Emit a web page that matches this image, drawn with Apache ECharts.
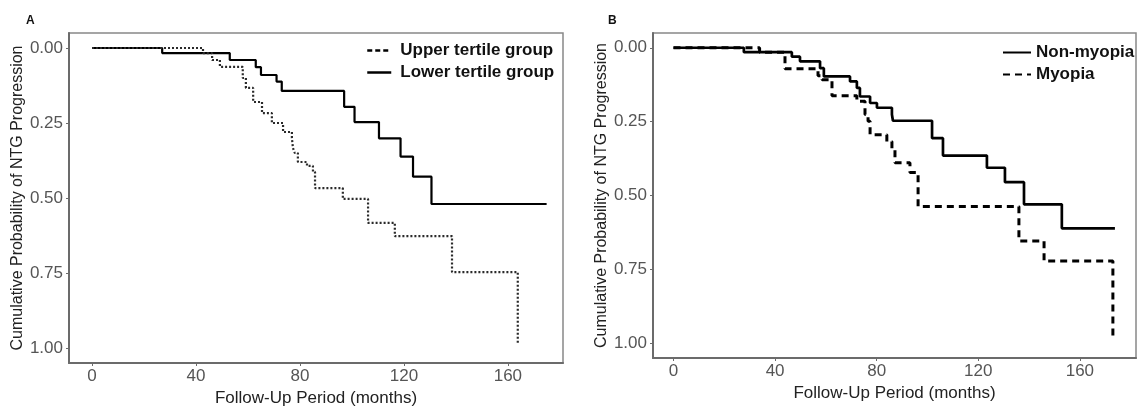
<!DOCTYPE html>
<html>
<head>
<meta charset="utf-8">
<script src="https://cdn.jsdelivr.net/npm/echarts@6/dist/echarts.min.js"></script>
<style>
  html, body { margin: 0; padding: 0; background: #fff; }
  #chart { width: 1137px; height: 410px; }
</style>
</head>
<body>
<div id="chart"></div>
<script>
// panel A: tertile groups
const upperTime = [0, 42.7, 46.2, 49.2, 58, 59.2, 62, 65.4, 69.2, 73.5, 76.9, 77.3, 78, 79.2, 82.7, 85, 85.8, 96.5, 106.2, 116.5, 138.5, 163.8];
const upperProb = [0, 0.017, 0.04, 0.063, 0.10, 0.133, 0.18, 0.217, 0.25, 0.28, 0.30, 0.333, 0.35, 0.38, 0.393, 0.413, 0.467, 0.503, 0.583, 0.627, 0.747, 0.983];
const lowerTime = [0, 27, 53, 63, 65, 71, 73, 97, 101, 110.4, 118.7, 123.5, 130.6, 174.9];
const lowerProb = [0, 0.017, 0.04, 0.064, 0.09, 0.112, 0.143, 0.196, 0.247, 0.301, 0.362, 0.429, 0.52, 0.52];

// panel B: myopia
const nonMyopiaTime = [0, 27.7, 46.6, 49.8, 57.7, 59.2, 69.5, 72.2, 73.4, 77.4, 80.1, 86, 86.4, 101.8, 106.1, 123.4, 130.5, 138, 152.9, 173.8];
const nonMyopiaProb = [0, 0.015, 0.03, 0.046, 0.069, 0.097, 0.114, 0.136, 0.165, 0.187, 0.203, 0.226, 0.247, 0.306, 0.365, 0.406, 0.455, 0.53, 0.611, 0.611];
const myopiaTime = [0, 33.9, 43.9, 56.9, 58.5, 62.4, 72.2, 75.4, 76.6, 77.4, 84, 86, 87.2, 93.1, 96.3, 136, 145.9, 173];
const myopiaProb = [0, 0.015, 0.071, 0.095, 0.108, 0.162, 0.181, 0.226, 0.249, 0.294, 0.317, 0.345, 0.389, 0.422, 0.537, 0.654, 0.722, 0.985];

const xTicks = [0, 40, 80, 120, 160];
const yTicks = [0, 0.25, 0.5, 0.75, 1];
const xTitle = 'Follow-Up Period (months)';
const yTitle = 'Cumulative Probability of NTG Progression';

const font = 'Liberation Sans, Arial, sans-serif';
const zip = (a, b) => a.map((v, i) => [v, b[i]]);

function xAxis(idx, min, max, gap) {
    return {
        type: 'value', gridIndex: idx, min: min, max: max,
        splitLine: { show: false },
        axisLine: { onZero: false, lineStyle: { color: '#6b6b6b', width: 2 } },
        axisTick: { customValues: xTicks, length: 3, lineStyle: { color: '#6b6b6b' } },
        axisLabel: { customValues: xTicks, margin: 5, fontSize: 17, color: '#555', fontFamily: font },
        name: xTitle, nameLocation: 'middle', nameGap: gap,
        nameTextStyle: { fontSize: 17, color: '#222', fontFamily: font }
    };
}
function yAxis(idx, gap) {
    return {
        type: 'value', gridIndex: idx, inverse: true, min: -0.05, max: 1.05,
        splitLine: { show: false },
        axisLine: { onZero: false, lineStyle: { color: '#6b6b6b', width: 2 } },
        axisTick: { customValues: yTicks, length: 3, lineStyle: { color: '#6b6b6b' } },
        axisLabel: { customValues: yTicks, margin: 6, fontSize: 17, color: '#555', fontFamily: font,
                     formatter: v => v.toFixed(2) },
        name: yTitle, nameLocation: 'middle', nameGap: gap, nameRotate: 90,
        nameTextStyle: { fontSize: 16, color: '#222', fontFamily: font }
    };
}

const legendText = { fontSize: 17, fontWeight: 'bold', color: '#111', fontFamily: font, lineHeight: 17 };

const chart = echarts.init(document.getElementById('chart'), null, { renderer: 'canvas' });
chart.setOption({
    backgroundColor: '#fff',
    animation: false,
    title: [
        { text: 'A', left: 21, top: 10, textStyle: { fontSize: 12, fontWeight: 'bold', color: '#111', fontFamily: font } },
        { text: 'B', left: 603, top: 10, textStyle: { fontSize: 12, fontWeight: 'bold', color: '#111', fontFamily: font } }
    ],
    grid: [
        { left: 69, top: 33, width: 494, height: 330, show: true, borderColor: '#888', borderWidth: 1.5, outerBoundsMode: 'none' },
        { left: 653, top: 33, width: 483, height: 325, show: true, borderColor: '#888', borderWidth: 1.5, outerBoundsMode: 'none' }
    ],
    xAxis: [xAxis(0, -8.85, 181.2, 25), xAxis(1, -8.07, 182.1, 22)],
    yAxis: [yAxis(0, 41), yAxis(1, 42)],
    legend: [
        {
            orient: 'vertical', left: 366, top: 42, padding: 0, itemWidth: 24, itemHeight: 12, itemGap: 5,
            itemStyle: { opacity: 0 },
            textStyle: Object.assign({ padding: [0, 0, 0, 4] }, legendText),
            data: [
                { name: 'Upper tertile group', lineStyle: { type: [5, 3], width: 2.5, color: '#000' } },
                { name: 'Lower tertile group', lineStyle: { width: 2.5, color: '#000' } }
            ]
        },
        {
            orient: 'vertical', left: 1002, top: 44, padding: 0, itemWidth: 28, itemHeight: 12, itemGap: 5,
            itemStyle: { opacity: 0 },
            textStyle: Object.assign({ padding: [0, 0, 0, 0] }, legendText),
            data: [{ name: 'Non-myopia' }, { name: 'Myopia' }]
        }
    ],
    series: [
        { name: 'Lower tertile group', type: 'line', step: 'end', xAxisIndex: 0, yAxisIndex: 0, symbol: 'none',
          itemStyle: { color: '#000' }, lineStyle: { color: '#000', width: 2.2 }, data: zip(lowerTime, lowerProb) },
        { name: 'Upper tertile group', type: 'line', step: 'end', xAxisIndex: 0, yAxisIndex: 0, symbol: 'none',
          itemStyle: { color: '#000' }, lineStyle: { color: '#2a2a2a', width: 2.2, type: [2, 2] }, data: zip(upperTime, upperProb) },
        { name: 'Myopia', type: 'line', step: 'end', xAxisIndex: 1, yAxisIndex: 1, symbol: 'none',
          itemStyle: { color: '#000' }, lineStyle: { color: '#000', width: 3, type: [7, 5] }, data: zip(myopiaTime, myopiaProb) },
        { name: 'Non-myopia', type: 'line', step: 'end', xAxisIndex: 1, yAxisIndex: 1, symbol: 'none',
          itemStyle: { color: '#000' }, lineStyle: { color: '#000', width: 2.7 }, data: zip(nonMyopiaTime, nonMyopiaProb) }
    ]
});
</script>
</body>
</html>
